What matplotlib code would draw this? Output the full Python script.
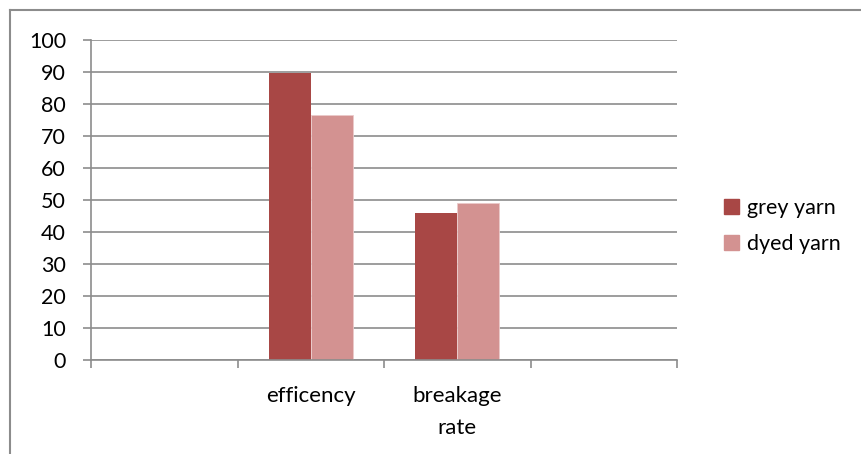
import numpy as np
import matplotlib.pyplot as plt
from matplotlib.lines import Line2D
from matplotlib.patches import Patch

categories = ["", "efficency", "breakage\nrate", ""]
grey_yarn = [np.nan, 89.8, 46, np.nan]
dyed_yarn = [np.nan, 76.6, 49, np.nan]
yticks = list(range(0, 101, 10))

grey_col = "#A84745"
dyed_col = "#D39291"
line_col = "#8C8C8C"

plt.rcParams["font.family"] = ["Lato", "DejaVu Sans"]

W, H = 861, 454
fig = plt.figure(figsize=(W / 100, H / 100), dpi=100)
ax = fig.add_axes([91 / W, 1 - 360 / H, (677 - 91) / W, 320 / H])

x = np.arange(len(categories))
bw = 1 / 3.5
ax.bar(x - bw / 2, grey_yarn, bw, color=grey_col, label="grey yarn")
ax.bar(x + bw / 2, dyed_yarn, bw, color=dyed_col, label="dyed yarn",
       edgecolor="#EBCACA", linewidth=0.6)

ax.set_xlim(-0.5, len(categories) - 0.5)
ax.set_ylim(0, 100)
ax.set_yticks(yticks)
ax.yaxis.grid(True, color=line_col, linewidth=1.2)
ax.set_axisbelow(True)

# category boundary ticks, labels in the middle
ax.set_xticks(np.arange(-0.5, len(categories)), minor=False)
ax.set_xticklabels([])
ax.set_xticks(x, minor=True)
ax.set_xticklabels(categories, minor=True, fontsize=16, linespacing=1.75)
ax.tick_params(axis="x", which="major", length=6, color=line_col, width=1.2)
ax.tick_params(axis="x", which="minor", length=0, pad=19)
ax.tick_params(axis="y", length=6, color=line_col, width=1.2, labelsize=15.5, pad=12)

for s in ["top", "right"]:
    ax.spines[s].set_visible(False)
for s in ["left", "bottom"]:
    ax.spines[s].set_color(line_col)
    ax.spines[s].set_linewidth(1.2)

handles = [Patch(color=grey_col), Patch(color=dyed_col)]
fig.legend(handles, ["grey yarn", "dyed yarn"], loc="center left",
           bbox_to_anchor=(705 / W, 1 - 226 / H), frameon=False,
           fontsize=15.5, handlelength=0.7, handleheight=0.7,
           handletextpad=0.35, labelspacing=0.75)

# outer chart frame
fig.add_artist(Line2D([9.5 / W, 1], [1 - 9.5 / H, 1 - 9.5 / H], color=line_col, lw=1.5))
fig.add_artist(Line2D([9.5 / W, 9.5 / W], [0, 1 - 9.5 / H], color=line_col, lw=1.5))

fig.savefig("out.png", dpi=100)
